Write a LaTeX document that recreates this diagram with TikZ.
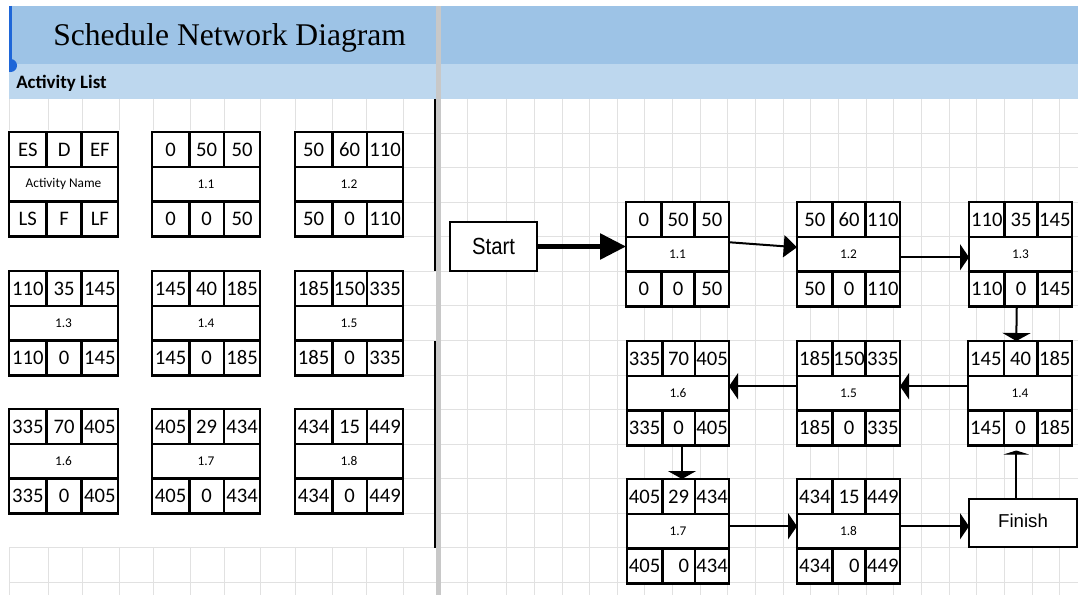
\documentclass[tikz,border=0pt]{standalone}
\usepackage{fontspec}
\usepackage{graphicx}
\setmainfont{Liberation Serif}
\newfontfamily\calibri{Carlito}
\newfontfamily\arialfont{Liberation Sans}
\usetikzlibrary{arrows.meta,calc}

\definecolor{hdrblue}{HTML}{9DC3E6}
\definecolor{bandblue}{HTML}{BDD7EE}
\definecolor{gridgray}{HTML}{E1E1E1}
\definecolor{divgray}{HTML}{C8C8C8}
\definecolor{selblue}{HTML}{1E66D8}

\tikzset{
  gridline/.style={draw=gridgray, line width=0.75pt},
  actframe/.style={draw=black, line width=2pt, rectangle, inner sep=0pt, outer sep=0pt, fill=white},
  cellline/.style={draw=black, line width=2pt},
  numtext/.style={font=\calibri\fontsize{15.5}{18}\selectfont, inner sep=0pt},
  nametext/.style={font=\calibri\fontsize{10}{12}\selectfont, inner sep=0pt},
  termbox/.style={draw=black, line width=1.5pt, fill=white, rectangle, inner sep=0pt, outer sep=0pt},
  flow/.style={line width=1.5pt, -{Triangle[length=6.75pt,width=19.5pt]}},
  flowslant/.style={line width=1.5pt, -{Triangle[length=10pt,width=16.5pt]}},
  flowdown/.style={line width=1.5pt, -{Triangle[length=6pt,width=21pt]}},
  flowup/.style={line width=1.5pt, -{Triangle[length=3pt,width=19pt]}},
  flowstart/.style={line width=3.5pt, -{Triangle[length=19.5pt,width=19pt]}},
}

% Activity box: name, left x, top y, width (px), then ES,D,EF,label,LS,F,LF
\newcommand\actbox[5]{%
  \def\bxn{#1}\def\bxx{#2}\def\bxy{#3}\def\bxw{#4}%
  \actcells#5\relax}
\def\actcells#1,#2,#3,#4,#5,#6,#7\relax{%
  \pgfmathsetmacro\cxA{\bxx+0.345*\bxw}%
  \pgfmathsetmacro\cxB{\bxx+0.668*\bxw}%
  \pgfmathsetmacro\cxR{\bxx+\bxw}%
  \pgfmathsetmacro\cyA{\bxy+35}%
  \pgfmathsetmacro\cyB{\bxy+69.5}%
  \pgfmathsetmacro\cyR{\bxy+104.5}%
  \pgfmathsetmacro\wpt{0.75*\bxw}%
  \node[actframe, minimum width=\wpt pt, minimum height=78.375pt] (\bxn) at ({\bxx+\bxw/2},{\bxy+52.25}) {};
  \draw[cellline] (\bxx,\cyA) -- (\cxR,\cyA) (\bxx,\cyB) -- (\cxR,\cyB)
        (\cxA,\bxy) -- (\cxA,\cyA) (\cxB,\bxy) -- (\cxB,\cyA)
        (\cxA,\cyB) -- (\cxA,\cyR) (\cxB,\cyB) -- (\cxB,\cyR);
  \node[numtext] (\bxn-es) at ({(\bxx+\cxA)/2},{(\bxy+\cyA)/2}) {#1};
  \node[numtext] (\bxn-d)  at ({(\cxA+\cxB)/2},{(\bxy+\cyA)/2}) {#2};
  \node[numtext] (\bxn-ef) at ({(\cxB+\cxR)/2},{(\bxy+\cyA)/2}) {#3};
  \node[nametext] (\bxn-name) at ({(\bxx+\cxR)/2},{(\cyA+\cyB)/2}) {#4};
  \node[numtext] (\bxn-ls) at ({(\bxx+\cxA)/2},{(\cyB+\cyR)/2}) {#5};
  \node[numtext] (\bxn-f)  at ({(\cxA+\cxB)/2},{(\cyB+\cyR)/2}) {#6};
  \node[numtext] (\bxn-lf) at ({(\cxB+\cxR)/2},{(\cyB+\cyR)/2}) {#7};
}

\begin{document}
\begin{tikzpicture}[x=0.75pt, y=-0.75pt]
\useasboundingbox (0,0) rectangle (1078,595);
\fill[white] (0,0) rectangle (1078,595);

% sheet grid, right pane
\draw[gridline] (467.7,99) -- (467.7,595);
\foreach \k in {0,...,20} \draw[gridline] ({506.7+27.65*\k},99) -- ({506.7+27.65*\k},595);
\foreach \k in {0,...,14} \draw[gridline] (441,{99+34.5*\k}) -- (1078,{99+34.5*\k});
% sheet grid, left pane
\foreach \gx in {9,48,82,119,153,190,224,260,295,332,366,403} \draw[gridline] (\gx,99) -- (\gx,595);
\foreach \k in {0,...,14} \draw[gridline] (9,{99+34.5*\k}) -- (436,{99+34.5*\k});
% blank area behind the activity list
\fill[white] (7,130) rectangle (404.4,547.3);

% title and section bands
\fill[hdrblue] (9,6) rectangle (436,64);
\fill[hdrblue] (441,6) rectangle (1078,64);
\fill[bandblue] (9,64) rectangle (436,99);
\fill[bandblue] (441,64) rectangle (1078,99);
\fill[divgray] (436,6) rectangle (441,595);
\draw[line width=1.6pt] (435,99) -- (435,271);
\draw[line width=1.6pt] (435,341) -- (435,548);

% selection handle
\draw[selblue, line width=2pt] (10.3,6) -- (10.3,64);
\begin{scope}
  \clip (9,50) rectangle (30,80);
  \fill[selblue] (10.5,65.5) circle (4.9pt);
\end{scope}

\node[anchor=base west, inner sep=0pt, font=\fontsize{23.7}{28}\selectfont] (title) at (53,46) {Schedule Network Diagram};
\node[anchor=base west, inner sep=0pt, font=\calibri\bfseries\fontsize{14.2}{16}\selectfont] (listhead) at (16,88.5) {Activity List};

% activity list
\actbox{keybox}{9}{132}{109}{ES,D,EF,Activity Name,LS,F,LF}
\actbox{a11}{152}{132}{108}{0,50,50,1.1,0,0,50}
\actbox{a12}{295}{132}{108}{50,60,110,1.2,50,0,110}
\actbox{a13}{9}{271}{109}{110,35,145,1.3,110,0,145}
\actbox{a14}{152}{271}{108}{145,40,185,1.4,145,0,185}
\actbox{a15}{295}{271}{108}{185,150,335,1.5,185,0,335}
\actbox{a16}{9}{409}{109}{335,70,405,1.6,335,0,405}
\actbox{a17}{152}{409}{108}{405,29,434,1.7,405,0,434}
\actbox{a18}{295}{409}{108}{434,15,449,1.8,434,0,449}

% network
\actbox{b11}{626}{202}{103}{0,50,50,1.1,0,0,50}
\actbox{b12}{797}{202}{103}{50,60,110,1.2,50,0,110}
\actbox{b13}{969}{202}{103}{110,35,145,1.3,110,0,145}
\actbox{b16}{627}{341}{102}{335,70,405,1.6,335,0,405}
\actbox{b15}{797}{341}{103}{185,150,335,1.5,185,0,335}
\actbox{b14}{968}{341}{104}{145,40,185,1.4,145,0,185}
\actbox{b17}{627}{479}{102}{405,29,434,1.7,405,{\hphantom{0}0},434}
\actbox{b18}{797}{479}{103}{434,15,449,1.8,434,{\hphantom{0}0},449}

\node[termbox, minimum width=65.25pt, minimum height=36.75pt, font=\arialfont\fontsize{17.5}{20}\selectfont] (start) at (493.5,246.5) {\scalebox{0.87}[1]{Start}};
\node[termbox, minimum width=81pt, minimum height=36pt, font=\arialfont\fontsize{14}{17}\selectfont] (finish) at (1023,523) {\raisebox{3.4pt}{Finish}};

% connectors
\draw[flowstart] (start.east) -- (start.east -| b11.west);
\draw[flowslant] ([yshift=9pt]b11.east) -- ([yshift=5.25pt]b12.west);
\draw[flow] ([yshift=-2.25pt]b12.east) -- ([yshift=-2.25pt]b13.west);
\draw[flowdown] ([xshift=-2.8pt]b13.south) -- ([xshift=-2.8pt]b14.north);
\draw[flow] ([yshift=5.25pt]b14.west) -- ([yshift=5.25pt]b15.east);
\draw[flow] ([yshift=5.25pt]b15.west) -- ([yshift=5.25pt]b16.east);
\draw[flowdown] ([xshift=3pt]b16.south) -- ([xshift=3pt]b17.north);
\draw[flow] ([yshift=3.75pt]b17.east) -- ([yshift=3.75pt]b18.west);
\draw[flow] ([yshift=3.75pt]b18.east) -- ([yshift=3.75pt]b18.east -| finish.west);
\draw[flowup] ([xshift=-2.8pt]b14.south |- finish.north) -- ([xshift=-2.8pt,yshift=-3.75pt]b14.south);
\end{tikzpicture}
\end{document}
